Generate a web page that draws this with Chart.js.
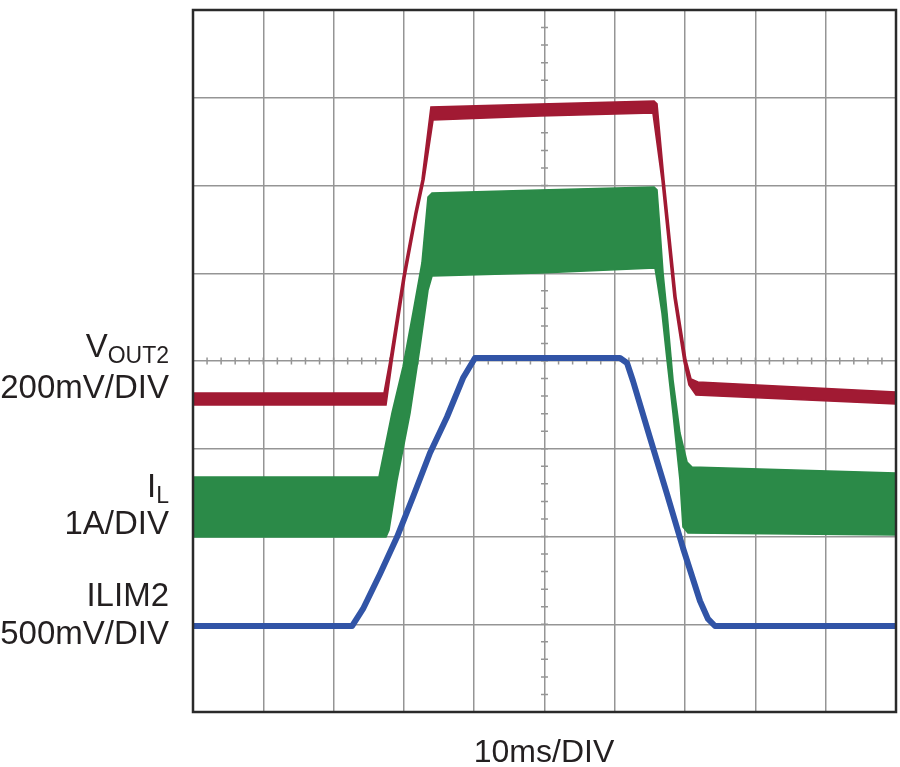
<!DOCTYPE html>
<html>
<head>
<meta charset="utf-8">
<script src="https://cdn.jsdelivr.net/npm/chart.js@4/dist/chart.umd.min.js"></script>
<style>
  html, body { margin: 0; padding: 0; background: #ffffff; }
  #wrap { position: relative; width: 900px; height: 767px; }
  canvas { position: absolute; left: 0; top: 0; }
  .lbl { position: absolute; right: 731px; font-family: "Liberation Sans", Arial, sans-serif;
         font-size: 33px; line-height: 33px; color: #231f20; white-space: nowrap; text-align: right; }
  .lbl sub { font-size: 23px; vertical-align: -6px; line-height: 0; }
  #xlab { position: absolute; left: 444px; width: 200px; text-align: center; top: 735px;
          font-family: "Liberation Sans", Arial, sans-serif; font-size: 32px; line-height: 32px; color: #231f20; }
</style>
</head>
<body>
<div id="wrap">
  <canvas id="c" width="900" height="767"></canvas>
  <div class="lbl" style="top:329px">V<sub>OUT2</sub></div>
  <div class="lbl" style="top:370px">200mV/DIV</div>
  <div class="lbl" style="top:469px">I<sub>L</sub></div>
  <div class="lbl" style="top:506px">1A/DIV</div>
  <div class="lbl" style="top:578px">ILIM2</div>
  <div class="lbl" style="top:616px">500mV/DIV</div>
  <div id="xlab">10ms/DIV</div>
</div>
<script>
// Time in ms (10 ms/div, 10 divisions), amplitude in screen divisions (0..8)
const timeTicks = [0, 10, 20, 30, 40, 50, 60, 70, 80, 90, 100];
const divTicks = [0, 1, 2, 3, 4, 5, 6, 7, 8];

// VOUT2 trace envelope (upper / lower edge)
const vout2Upper = [[0,3.635],[27.17,3.635],[28.02,4.011],[29.87,4.957],[31.58,5.687],[32.57,6.063],[33.85,6.895],[49.36,6.929],[65.58,6.963],[66.00,6.929],[67.00,6.063],[68.71,4.729],[70.13,4.011],[70.84,3.795],[71.83,3.761],[100,3.647]];
const vout2Lower = [[0,3.499],[27.45,3.499],[28.31,3.989],[30.16,4.957],[31.86,5.687],[32.86,6.063],[34.14,6.746],[49.36,6.792],[65.43,6.826],[66.71,6.063],[68.42,4.729],[69.84,3.989],[70.55,3.726],[71.55,3.613],[100,3.510]];

// IL trace envelope (ripple band, upper / lower edge)
const ilUpper = [[0,2.678],[26.46,2.678],[28.31,3.407],[29.87,3.932],[31.29,4.547],[32.57,5.117],[33.43,5.869],[34.00,5.915],[49.36,5.949],[65.58,5.983],[66.00,5.949],[66.43,5.493],[66.86,5.003],[67.43,4.547],[68.28,3.783],[69.27,3.179],[70.27,2.849],[70.98,2.792],[100,2.724]];
const ilLower = [[0,1.994],[27.45,1.994],[27.88,2.074],[29.02,2.644],[30.87,3.407],[32.29,4.160],[33.43,4.809],[34.00,4.969],[49.36,5.003],[65.72,5.060],[66.00,4.923],[66.71,4.547],[67.43,4.011],[68.28,3.407],[69.27,2.644],[69.70,2.108],[70.41,2.040],[100,2.017]];

// ILIM2 trace (centre line)
const ilim2 = [[0,0.980],[22.62,0.980],[24.18,1.174],[26.60,1.573],[29.02,1.994],[31.29,2.450],[33.71,2.952],[36.13,3.362],[38.41,3.806],[40.11,4.034],[50.50,4.034],[60.74,4.034],[61.74,3.977],[62.59,3.772],[65.01,3.123],[67.43,2.484],[69.70,1.869],[72.12,1.265],[73.26,1.060],[74.25,0.980],[100,0.980]];

const RED = '#a11a33';
const GREEN = '#2b8a48';
const BLUE = '#3154a6';
const GRID = '#959595';

const toXY = arr => arr.map(p => ({ x: p[0], y: p[1] }));

const framePlugin = {
  id: 'scopeFrame',
  beforeDatasetsDraw(chart) {
    const { ctx, scales: { x, y } } = chart;
    const xc = x.getPixelForValue((timeTicks[0] + timeTicks[timeTicks.length - 1]) / 2);
    const yc = y.getPixelForValue((divTicks[0] + divTicks[divTicks.length - 1]) / 2);
    ctx.save();
    ctx.strokeStyle = GRID;
    ctx.lineWidth = 1.5;
    ctx.beginPath();
    for (let v = divTicks[0]; v <= divTicks[divTicks.length - 1] + 1e-9; v += 0.2) {
      const py = y.getPixelForValue(v);
      ctx.moveTo(xc - 3.5, py); ctx.lineTo(xc + 3.5, py);
    }
    for (let t = timeTicks[0]; t <= timeTicks[timeTicks.length - 1] + 1e-9; t += 2) {
      const px = x.getPixelForValue(t);
      ctx.moveTo(px, yc - 3.5); ctx.lineTo(px, yc + 3.5);
    }
    ctx.stroke();
    ctx.restore();
  },
  afterDatasetsDraw(chart) {
    const { ctx, chartArea: a } = chart;
    ctx.save();
    ctx.strokeStyle = '#2a2a2a';
    ctx.lineWidth = 2.5;
    ctx.strokeRect(a.left, a.top, a.right - a.left, a.bottom - a.top);
    ctx.restore();
  }
};

new Chart(document.getElementById('c'), {
  type: 'line',
  data: {
    datasets: [
      { label: 'ILIM2', data: toXY(ilim2), borderColor: BLUE, borderWidth: 6, pointRadius: 0, tension: 0, fill: false, borderJoinStyle: 'round', borderCapStyle: 'butt' },
      { label: 'VOUT2 upper', data: toXY(vout2Upper), borderColor: RED, backgroundColor: RED, borderWidth: 1.6, pointRadius: 0, tension: 0, fill: false },
      { label: 'VOUT2 lower', data: toXY(vout2Lower), borderColor: RED, backgroundColor: RED, borderWidth: 1.6, pointRadius: 0, tension: 0, fill: '-1' },
      { label: 'IL upper', data: toXY(ilUpper), borderColor: GREEN, backgroundColor: GREEN, borderWidth: 1.6, pointRadius: 0, tension: 0, fill: false },
      { label: 'IL lower', data: toXY(ilLower), borderColor: GREEN, backgroundColor: GREEN, borderWidth: 1.6, pointRadius: 0, tension: 0, fill: '-1' }
    ]
  },
  options: {
    responsive: false,
    animation: false,
    events: [],
    layout: { padding: { left: 193, top: 10, right: 4, bottom: 55 } },
    plugins: { legend: { display: false }, tooltip: { enabled: false } },
    scales: {
      x: {
        type: 'linear', min: timeTicks[0], max: timeTicks[timeTicks.length - 1],
        afterBuildTicks: s => { s.ticks = timeTicks.map(v => ({ value: v })); },
        ticks: { display: false },
        grid: { color: GRID, lineWidth: 1.5, drawTicks: false },
        border: { display: false }
      },
      y: {
        type: 'linear', min: divTicks[0], max: divTicks[divTicks.length - 1],
        afterBuildTicks: s => { s.ticks = divTicks.map(v => ({ value: v })); },
        ticks: { display: false },
        grid: { color: GRID, lineWidth: 1.5, drawTicks: false },
        border: { display: false }
      }
    }
  },
  plugins: [framePlugin]
});
</script>
</body>
</html>
